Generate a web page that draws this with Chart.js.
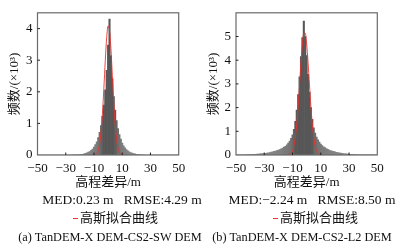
<!DOCTYPE html>
<html>
<head>
<meta charset="utf-8">
<script src="https://cdn.jsdelivr.net/npm/chart.js@4/dist/chart.umd.min.js"></script>
<style>
  html, body { margin: 0; padding: 0; background: #ffffff; }
  #wrap { position: relative; width: 412px; height: 251px; overflow: hidden; background: #ffffff;
          font-family: 'Liberation Serif', 'Noto Sans CJK SC', serif; color: #111; }
  canvas { position: absolute; top: 0; }
  .t { position: absolute; line-height: 16px; white-space: nowrap; transform: translateX(-50%); }
  .med { font-size: 13.5px; }
  .cap { font-size: 12.3px; }
  .leg { position: absolute; font-size: 13px; line-height: 16px; white-space: nowrap; }
  .dash { position: absolute; height: 1px; background: #e8352f; }
</style>
</head>
<body>
<div id="wrap">
  <canvas id="cA" width="206" height="193" style="left:0px"></canvas>
  <canvas id="cB" width="206" height="193" style="left:206px"></canvas>

  <div class="t med" style="left:122px; top:192px">MED:0.23 m&nbsp;&nbsp;&nbsp;RMSE:4.29 m</div>
  <div class="dash" style="left:73px; top:218px; width:5px"></div>
  <div class="leg" style="left:80px; top:210px">高斯拟合曲线</div>
  <div class="t cap" style="left:110px; top:229px">(a) TanDEM-X DEM-CS2-SW DEM</div>

  <div class="t med" style="left:312px; top:192px">MED:−2.24 m&nbsp;&nbsp;&nbsp;RMSE:8.50 m</div>
  <div class="dash" style="left:273px; top:218px; width:5px"></div>
  <div class="leg" style="left:280px; top:210px">高斯拟合曲线</div>
  <div class="t cap" style="left:302px; top:229px">(b) TanDEM-X DEM-CS2-L2 DEM</div>
</div>
<script>
// ---- data (frequency in thousands) ----
const binCenters = [
  -50,-49,-48,-47,-46,-45,-44,-43,-42,-41,-40,-39,-38,-37,-36,-35,-34,-33,-32,-31,
  -30,-29,-28,-27,-26,-25,-24,-23,-22,-21,-20,-19,-18,-17,-16,-15,-14,-13,-12,-11,
  -10,-9,-8,-7,-6,-5,-4,-3,-2,-1,0,1,2,3,4,5,6,7,8,9,
  10,11,12,13,14,15,16,17,18,19,20,21,22,23,24,25,26,27,28,29,
  30,31,32,33,34,35,36,37,38,39,40,41,42,43,44,45,46,47,48,49,50
];
// (a) TanDEM-X DEM - CS2-SW DEM histogram
const histSW = [
  0,0,0,0,0,0,0,0,0,0,0,0,0,0,0,0,0,0,0,0,
  0,0,0,0,0,0.003,0.003,0.003,0.005,0.008,0.012,0.018,0.025,0.035,0.05,0.07,0.09,0.11,0.15,0.19,
  0.25,0.33,0.42,0.55,0.72,0.93,1.22,1.58,2.06,2.68,3.48,4.3,3.14,2.41,1.85,1.42,1.09,0.84,0.65,0.5,
  0.38,0.29,0.23,0.17,0.13,0.1,0.08,0.06,0.045,0.035,0.025,0.018,0.012,0.008,0.005,0.003,0,0,0,0,
  0,0,0,0,0,0,0,0,0,0,0,0,0,0,0,0,0,0,0,0,0
];
// (b) TanDEM-X DEM - CS2-L2 DEM histogram
const histL2 = [
  0.004,0.005,0.006,0.007,0.008,0.009,0.01,0.012,0.014,0.016,0.018,0.02,0.024,0.027,0.03,0.035,0.04,0.045,0.05,0.058,
  0.065,0.075,0.085,0.095,0.105,0.12,0.13,0.15,0.17,0.19,0.21,0.23,0.26,0.29,0.33,0.37,0.43,0.5,0.59,0.7,
  0.85,1.08,1.42,1.9,2.55,3.3,4.15,4.95,5.65,5.0,4.2,3.4,2.65,2.0,1.5,1.15,0.92,0.76,0.64,0.54,
  0.46,0.4,0.35,0.31,0.27,0.24,0.21,0.19,0.17,0.15,0.13,0.115,0.1,0.09,0.08,0.07,0.06,0.05,0.045,0.04,
  0.035,0.03,0.025,0.02,0.018,0.015,0.012,0.01,0.008,0.007,0.006,0.005,0.004,0.004,0.003,0.003,0.002,0.002,0.002,0.001,0.001
];
// Gaussian fit curves
const fitXSW = [-11,-10,-9,-8,-7,-6,-5,-4,-3,-2,-1,0,1,2,3,4,5,6,7,8,9,10,11];
const fitSW  = [0.001,0.005,0.018,0.055,0.146,0.345,0.717,1.31,2.108,2.986,3.723,4.086,3.948,3.358,2.514,1.656,0.961,0.491,0.221,0.087,0.03,0.009,0.003];
const fitXL2 = [-14,-13,-12,-11,-10,-9,-8,-7,-6,-5,-4,-3,-2,-1,0,1,2,3,4,5,6,7,8,9,10,11];
const fitL2  = [0.004,0.012,0.033,0.082,0.189,0.393,0.747,1.30,2.05,2.96,3.90,4.69,5.14,5.14,4.69,3.90,2.96,2.05,1.30,0.747,0.393,0.189,0.082,0.033,0.012,0.004];

const xMin = -50, xMax = 50, xStep = 20;
const yMaxSW = 4.5, yLabelMaxSW = 4;
const yMaxL2 = 6,   yLabelMaxL2 = 5;

const xTitle = '高程差异/m';
const yTitle = '频数/(×10³)';
const fitLabel = '高斯拟合曲线';

const FONT = "'Liberation Serif', 'Noto Sans CJK SC', serif";

const framePlugin = {
  id: 'frame',
  afterDatasetsDraw(chart) {
    const { ctx, chartArea: a, scales } = chart;
    ctx.save();
    ctx.strokeStyle = '#6a6a6a';
    ctx.lineWidth = 1.2;
    ctx.strokeRect(a.left, a.top, a.right - a.left, a.bottom - a.top);
    ctx.strokeStyle = '#222';
    ctx.lineWidth = 1;
    scales.x.ticks.forEach(t => {
      const px = scales.x.getPixelForValue(t.value);
      if (px > a.left + 1 && px < a.right - 1) {
        ctx.beginPath(); ctx.moveTo(px, a.bottom); ctx.lineTo(px, a.bottom - 2.5); ctx.stroke();
      }
    });
    scales.y.ticks.forEach(t => {
      const py = scales.y.getPixelForValue(t.value);
      if (py > a.top + 1 && py < a.bottom - 1) {
        ctx.beginPath(); ctx.moveTo(a.left, py); ctx.lineTo(a.left + 2.5, py); ctx.stroke();
      }
    });
    ctx.restore();
  }
};

function barShade(ctx) {
  const v = ctx.raw && typeof ctx.raw.y === 'number' ? ctx.raw.y : 0;
  const g = Math.round(135 - Math.min(v, 1.5) * 32);
  return 'rgb(' + g + ',' + g + ',' + g + ')';
}

function makeChart(id, hist, fitX, fit, yMax, yLabelMax, yAxisW, padRight, yTitlePad) {
  const bars = binCenters.map((x, i) => ({ x: x, y: hist[i] }));
  const line = fitX.map((x, i) => ({ x: x, y: fit[i] }));
  return new Chart(document.getElementById(id), {
    type: 'bar',
    data: {
      datasets: [
        {
          type: 'line', label: fitLabel, data: line,
          borderColor: 'rgba(232,50,45,0.9)', borderWidth: 1, pointRadius: 0,
          cubicInterpolationMode: 'monotone', fill: false, order: 0
        },
        {
          type: 'bar', label: 'hist', data: bars,
          backgroundColor: barShade, borderWidth: 0,
          barPercentage: 1, categoryPercentage: 1, order: 1
        }
      ]
    },
    options: {
      responsive: false, animation: false, devicePixelRatio: 1,
      layout: { padding: { top: 4, right: padRight, left: 0, bottom: 0 } },
      plugins: { legend: { display: false }, tooltip: { enabled: false } },
      scales: {
        x: {
          type: 'linear', min: xMin, max: xMax, offset: false,
          grid: { display: false, drawTicks: false },
          border: { display: false },
          ticks: { stepSize: xStep, padding: 6, maxRotation: 0, color: '#111',
                   font: { family: FONT, size: 13 },
                   callback: v => String(v).replace('-', '−') },
          title: { display: true, text: xTitle, color: '#111',
                   font: { family: FONT, size: 13 }, padding: { top: 0, bottom: 3 } },
          afterFit: s => { s.height = 38; }
        },
        y: {
          min: 0, max: yMax,
          grid: { display: false, drawTicks: false },
          border: { display: false },
          ticks: { stepSize: 1, padding: 5, includeBounds: false, color: '#111',
                   font: { family: FONT, size: 13 } },
          afterBuildTicks: s => { s.ticks = s.ticks.filter(t => t.value <= yLabelMax); },
          title: { display: true, text: yTitle, color: '#111',
                   font: { family: FONT, size: 13 }, padding: { top: yTitlePad, bottom: 0 } },
          afterFit: s => { s.width = yAxisW; }
        }
      }
    },
    plugins: [framePlugin]
  });
}

makeChart('cA', histSW, fitXSW, fitSW, yMaxSW, yLabelMaxSW, 37.5, 27.3, 7);
makeChart('cB', histL2, fitXL2, fitL2, yMaxL2, yLabelMaxL2, 30, 34.7, 0);
</script>
</body>
</html>
